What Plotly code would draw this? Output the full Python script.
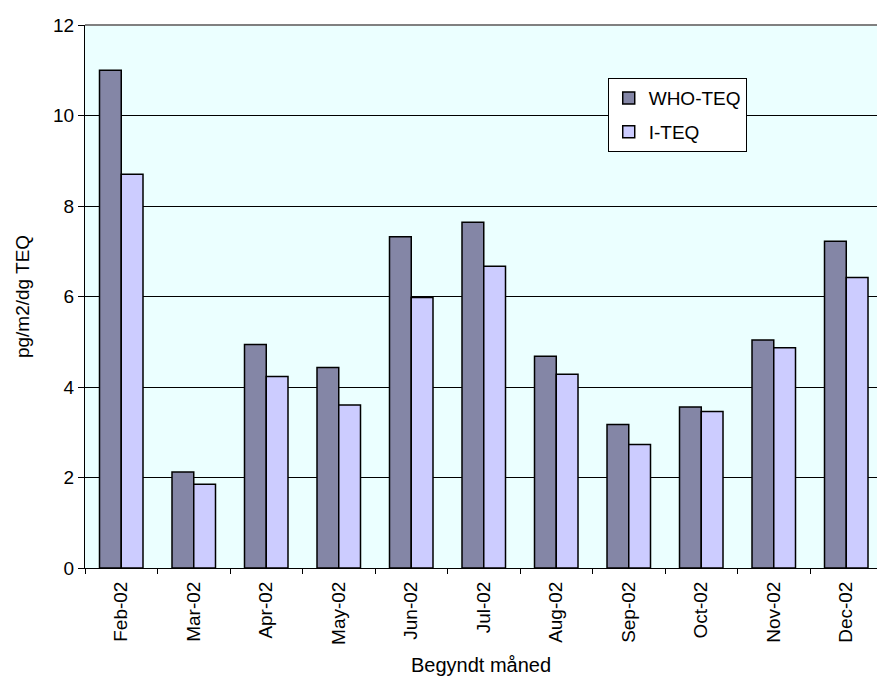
import plotly.graph_objects as go

# Monthly deposition, pg/m2/dg TEQ
months = ["Feb-02", "Mar-02", "Apr-02", "May-02", "Jun-02", "Jul-02",
          "Aug-02", "Sep-02", "Oct-02", "Nov-02", "Dec-02"]
who_teq = [11.0, 2.12, 4.94, 4.43, 7.32, 7.64, 4.68, 3.17, 3.56, 5.04, 7.22]
i_teq = [8.70, 1.85, 4.23, 3.60, 5.98, 6.67, 4.28, 2.73, 3.46, 4.87, 6.42]
y_ticks = [0, 2, 4, 6, 8, 10, 12]

FONT = "Liberation Sans, Arial, sans-serif"

fig = go.Figure()
fig.add_trace(go.Bar(
    x=months, y=who_teq, name="WHO-TEQ", legendgroup="a",
    marker=dict(color="#8486A6", line=dict(color="#000000", width=1.5)),
))
fig.add_trace(go.Bar(
    x=months, y=i_teq, name="I-TEQ", legendgroup="b",
    marker=dict(color="#CCCCFF", line=dict(color="#000000", width=1.5)),
))

# gray frame along the top of the plot area
fig.add_shape(type="line", xref="paper", yref="paper", x0=0, x1=1, y0=1, y1=1,
              line=dict(color="#808080", width=2), layer="above")

fig.update_layout(
    width=877, height=677,
    margin=dict(l=85, r=0, t=25, b=109),
    paper_bgcolor="#FFFFFF",
    plot_bgcolor="#EBFFFF",
    barmode="group", bargap=0.4, bargroupgap=0,
    font=dict(family=FONT, size=19, color="#000000"),
    legend=dict(
        x=0.66, y=0.902, xanchor="left", yanchor="top",
        bgcolor="#FFFFFF", bordercolor="#000000", borderwidth=1,
        font=dict(family=FONT, size=19, color="#000000"),
        tracegroupgap=6, itemwidth=30,
    ),
    xaxis=dict(
        type="category",
        range=[-0.5, 10.424],
        tickangle=-90,
        tickson="boundaries",
        ticks="outside", ticklen=5, tickcolor="#000000",
        showline=True, linecolor="#000000", linewidth=1,
        showgrid=False,
        tickfont=dict(family=FONT, size=19),
        ticklabelstandoff=5,
        title=dict(text="Begyndt måned", font=dict(family=FONT, size=20), standoff=14),
    ),
    yaxis=dict(
        range=[0, 12],
        tickvals=y_ticks,
        ticks="outside", ticklen=6, tickcolor="#000000",
        showline=True, linecolor="#000000", linewidth=1,
        showgrid=True, gridcolor="#000000", gridwidth=1,
        zeroline=False,
        tickfont=dict(family=FONT, size=19),
        title=dict(text="pg/m2/dg TEQ", font=dict(family=FONT, size=19), standoff=18),
    ),
)

fig.write_html("out.html")
